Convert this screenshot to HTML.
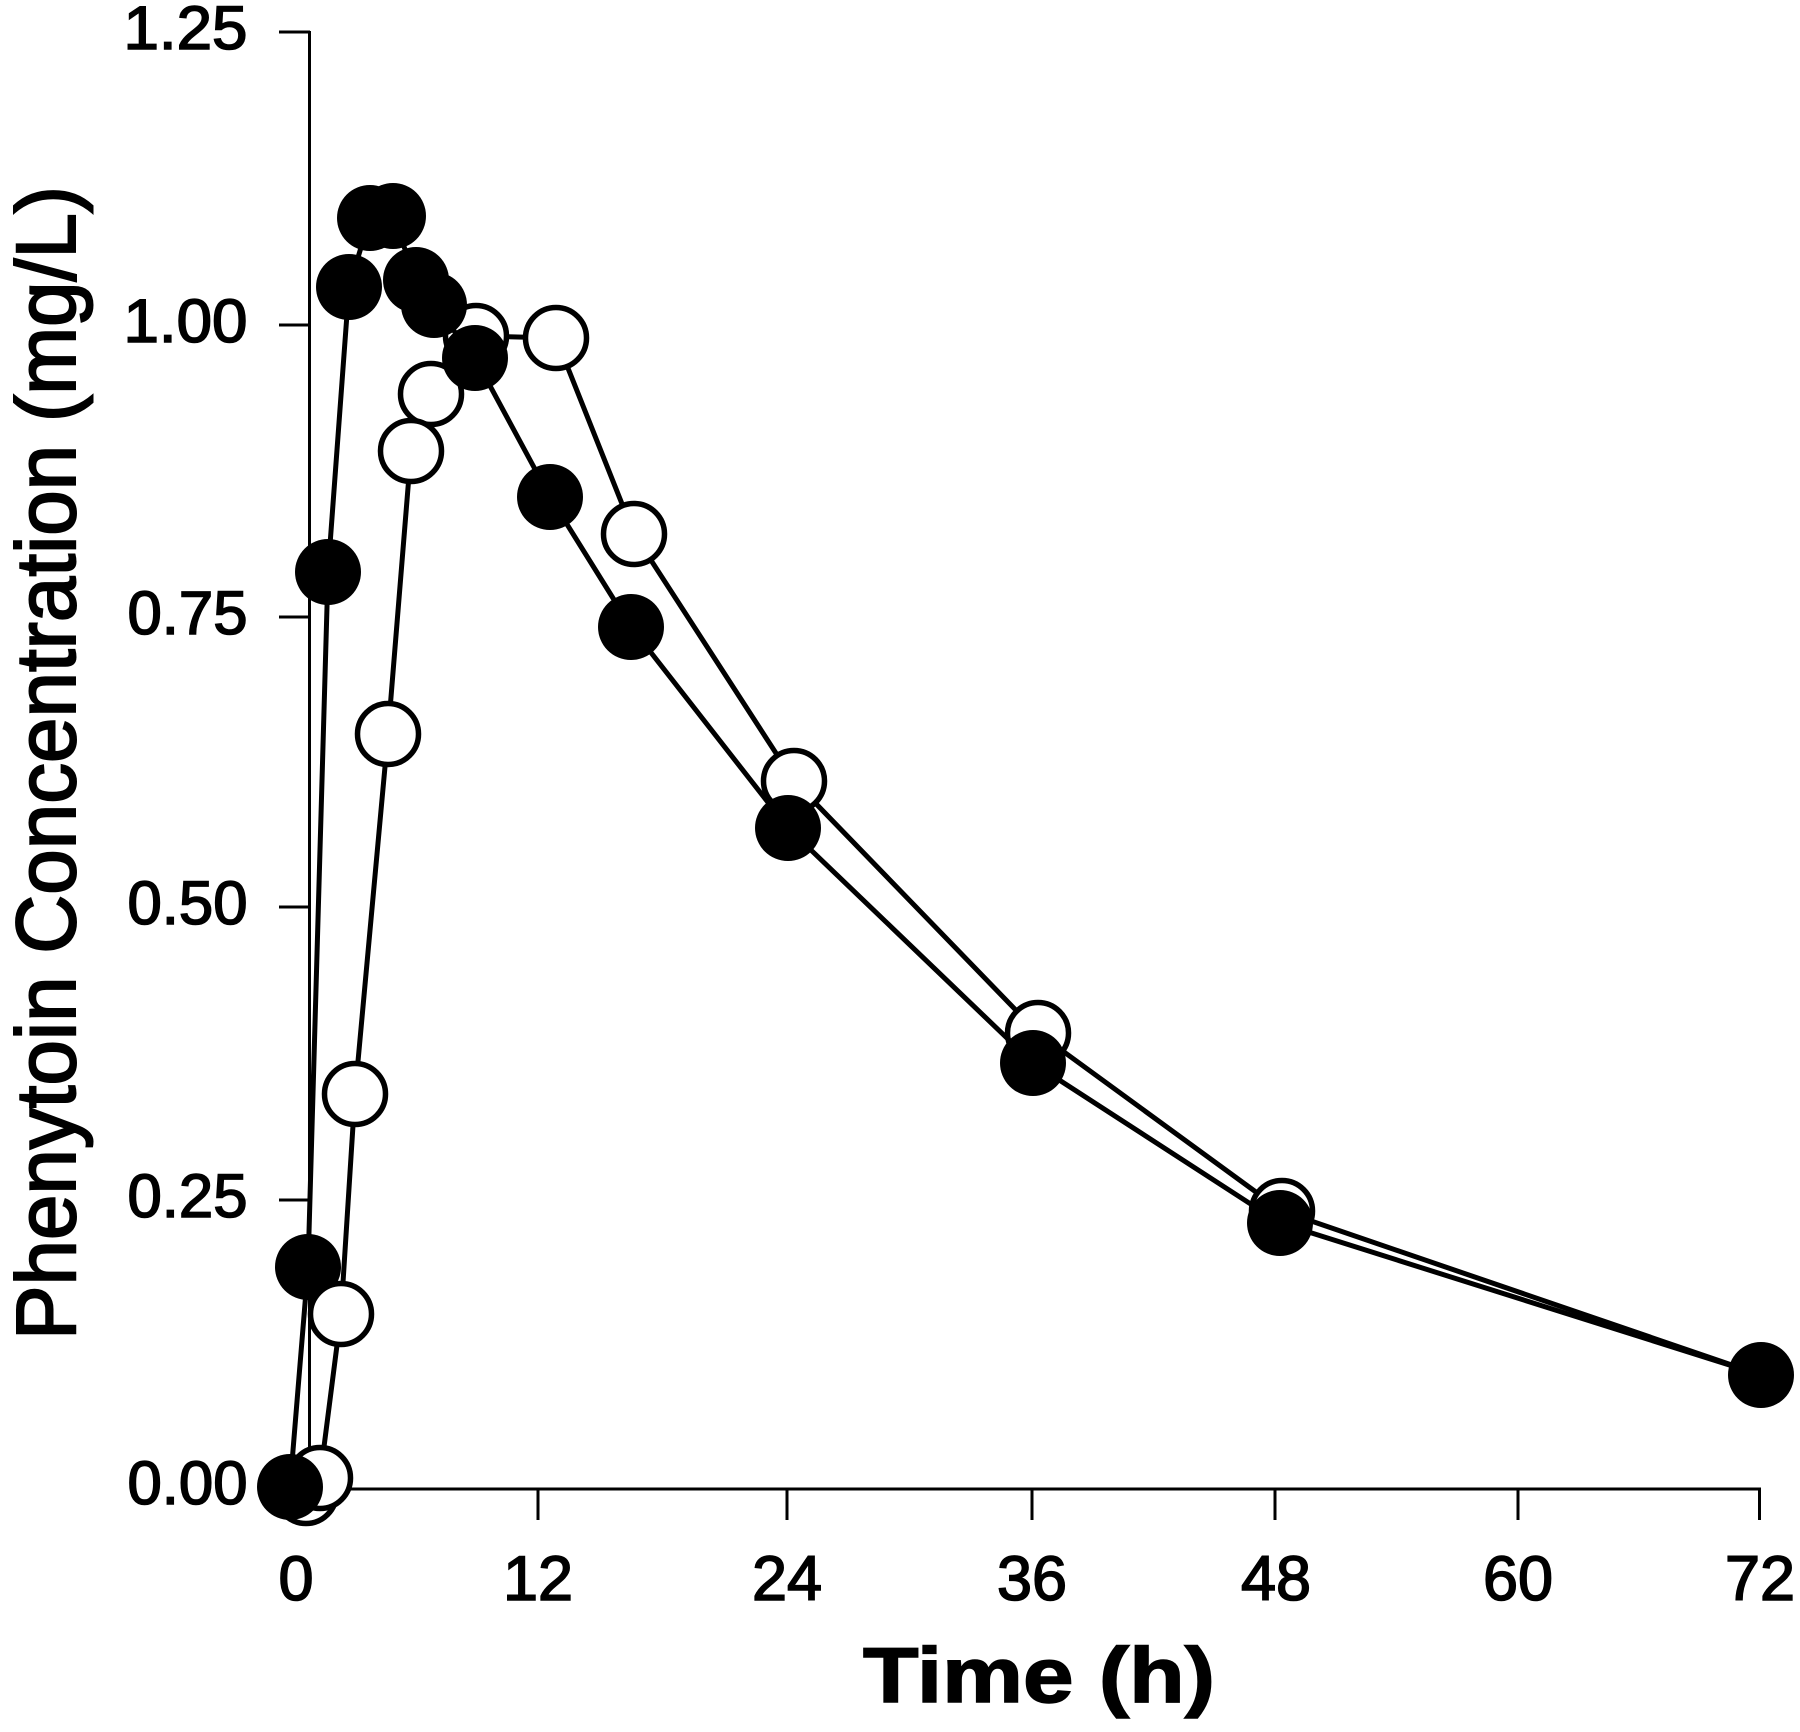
<!DOCTYPE html>
<html>
<head>
<meta charset="utf-8">
<style>
  html,body{margin:0;padding:0;background:#fff;}
  svg{display:block;}
  text{font-family:"Liberation Sans", Arial, Helvetica, sans-serif; fill:#000;}
</style>
</head>
<body>
<svg width="1800" height="1732" viewBox="0 0 1800 1732" xmlns="http://www.w3.org/2000/svg">
  <rect width="1800" height="1732" fill="#fff"/>

  <!-- Axes -->
  <g stroke="#000" stroke-width="3" fill="none">
    <line x1="309.5" y1="31" x2="309.5" y2="1490"/>
    <line x1="308" y1="1489" x2="1761" y2="1489"/>
    <!-- y ticks -->
    <line x1="279" y1="32" x2="310" y2="32"/>
    <line x1="279" y1="325" x2="310" y2="325"/>
    <line x1="279" y1="617" x2="310" y2="617"/>
    <line x1="279" y1="907" x2="310" y2="907"/>
    <line x1="279" y1="1200" x2="310" y2="1200"/>
    <line x1="279" y1="1489" x2="310" y2="1489"/>
    <!-- x ticks -->
    <line x1="538" y1="1488" x2="538" y2="1520"/>
    <line x1="787" y1="1488" x2="787" y2="1520"/>
    <line x1="1032" y1="1488" x2="1032" y2="1520"/>
    <line x1="1275" y1="1488" x2="1275" y2="1520"/>
    <line x1="1518" y1="1488" x2="1518" y2="1520"/>
    <line x1="1759.5" y1="1488" x2="1759.5" y2="1520"/>
  </g>

  <!-- Y tick labels -->
  <g font-size="61" stroke="#000" stroke-width="1.6">
    <text x="123.5" y="49" textLength="124" lengthAdjust="spacingAndGlyphs">1.25</text>
    <text x="123.5" y="342" textLength="124" lengthAdjust="spacingAndGlyphs">1.00</text>
    <text x="127.5" y="634" textLength="120" lengthAdjust="spacingAndGlyphs">0.75</text>
    <text x="127.5" y="924" textLength="120" lengthAdjust="spacingAndGlyphs">0.50</text>
    <text x="127.5" y="1217" textLength="120" lengthAdjust="spacingAndGlyphs">0.25</text>
    <text x="127.5" y="1504" textLength="120" lengthAdjust="spacingAndGlyphs">0.00</text>
  </g>

  <!-- X tick labels -->
  <g font-size="63" text-anchor="middle" stroke="#000" stroke-width="1.6">
    <text x="296" y="1600">0</text>
    <text x="538" y="1600">12</text>
    <text x="787" y="1600">24</text>
    <text x="1032" y="1600">36</text>
    <text x="1276" y="1600">48</text>
    <text x="1518" y="1600">60</text>
    <text x="1760" y="1600">72</text>
  </g>

  <!-- Axis titles -->
  <text x="863" y="1702" font-size="78" font-weight="bold" stroke="#000" stroke-width="1.5" textLength="352" lengthAdjust="spacingAndGlyphs">Time (h)</text>
  <text transform="translate(75,1340) rotate(-90)" font-size="84" stroke="#000" stroke-width="2" textLength="1154" lengthAdjust="spacingAndGlyphs">Phenytoin Concentration (mg/L)</text>

  <!-- Open series line -->
  <polyline fill="none" stroke="#000" stroke-width="5" stroke-linejoin="round"
    points="306,1492 320,1478 341,1314 355,1094 388,734 411,451 431,394 476,336 556,338 634,534 794,781 1038,1033 1282,1211 1761,1375"/>

  <!-- Open circles -->
  <g fill="#fff" stroke="#000" stroke-width="5.5">
    <circle cx="306" cy="1493" r="30.5"/>
    <circle cx="320" cy="1478" r="30.5"/>
    <circle cx="355" cy="1094" r="30.5"/>
    <circle cx="388" cy="734" r="30.5"/>
    <circle cx="431" cy="394" r="30.5"/>
    <circle cx="411" cy="451" r="30.5"/>
    <circle cx="476" cy="336" r="30.5"/>
    <circle cx="556" cy="338" r="30.5"/>
    <circle cx="634" cy="534" r="30.5"/>
    <circle cx="794" cy="781" r="30.5"/>
    <circle cx="1038" cy="1033" r="30.5"/>
    <circle cx="1282" cy="1211" r="30.5"/>
  </g>

  <!-- Filled series line -->
  <polyline fill="none" stroke="#000" stroke-width="5" stroke-linejoin="round"
    points="290,1487 308,1267 328,572 349,287 370,218 393,216 416,280 434,305 475,358 550,497 631,627 788,828 1033,1063 1280,1223 1761,1375"/>

  <!-- Filled circles -->
  <g fill="#000">
    <circle cx="290" cy="1487" r="33"/>
    <circle cx="308" cy="1267" r="33"/>
    <circle cx="328" cy="572" r="33"/>
    <circle cx="349" cy="287" r="33"/>
    <circle cx="370" cy="218" r="33"/>
    <circle cx="393" cy="216" r="33"/>
    <circle cx="416" cy="280" r="33"/>
    <circle cx="434" cy="305" r="33"/>
    <circle cx="475" cy="358" r="33"/>
    <circle cx="550" cy="497" r="33"/>
    <circle cx="631" cy="627" r="33"/>
    <circle cx="788" cy="828" r="33"/>
    <circle cx="1033" cy="1063" r="33"/>
    <circle cx="1280" cy="1223" r="33"/>
    <circle cx="1761" cy="1375" r="33"/>
  </g>

  <!-- Open circle drawn on top of filled near 2 h -->
  <circle cx="341" cy="1314" r="30.5" fill="#fff" stroke="#000" stroke-width="5.5"/>
</svg>
</body>
</html>
